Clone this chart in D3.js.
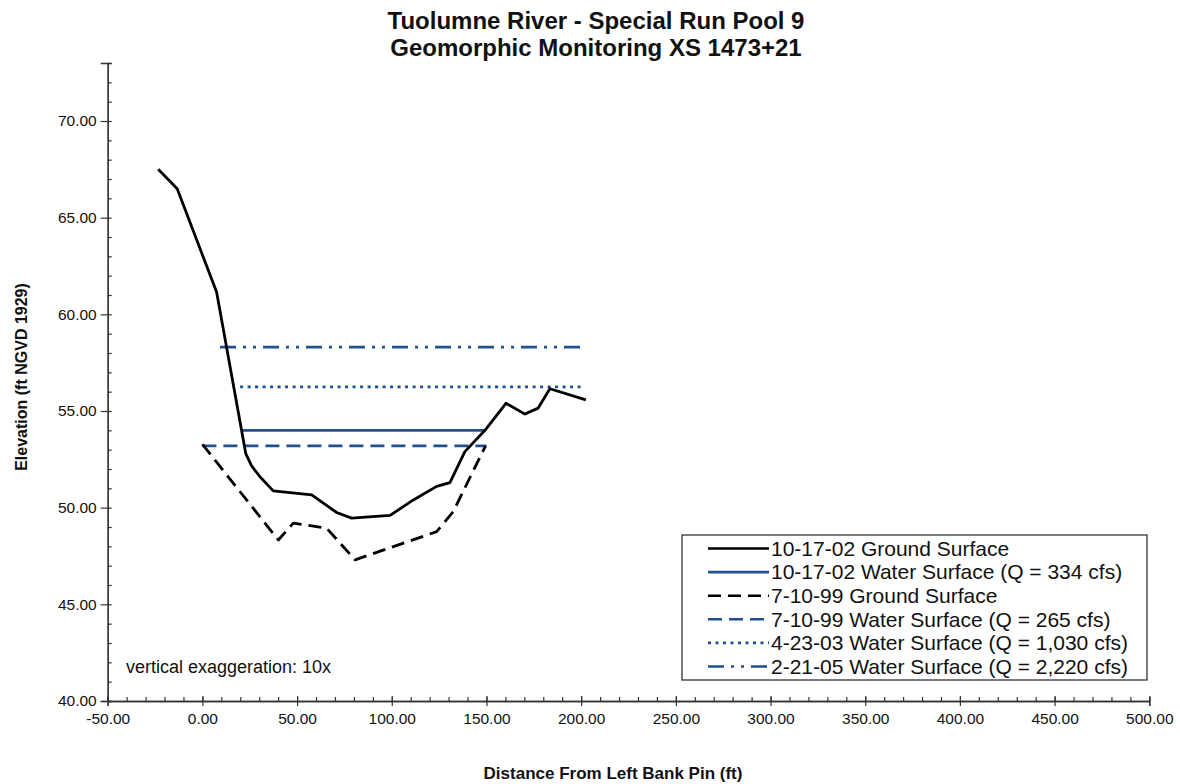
<!DOCTYPE html>
<html>
<head>
<meta charset="utf-8">
<script src="https://cdn.jsdelivr.net/npm/d3@7"></script>
<style>
  body { margin: 0; background: #fff; }
  text { font-family: "Liberation Sans", Arial, sans-serif; fill: #111; }
</style>
</head>
<body>
<svg id="chart" width="1180" height="784"></svg>
<script>
// 10-17-02 ground surface
const ground1017Dist = [-23.3, -13.3, 7.5, 22.9, 26.0, 30.4, 37.4, 57.7, 70.9, 78.8, 99.1, 111.4, 123.7, 130.7, 138.6, 149.2, 160.3, 170.3, 177.3, 183.5, 202.5]
const ground1017Elev = [67.5, 66.5, 61.15, 52.8, 52.16, 51.6, 50.87, 50.66, 49.75, 49.46, 49.6, 50.4, 51.1, 51.3, 52.9, 54.0, 55.4, 54.84, 55.15, 56.15, 55.58]

// 7-10-99 ground surface
const ground0799Dist = [0, 40.1, 48.0, 65.6, 80.6, 123.7, 132.5, 149.5]
const ground0799Elev = [53.28, 48.33, 49.2, 48.94, 47.3, 48.76, 49.8, 53.2]

// water surfaces: [start, end] distance and elevation
const ws1017Dist = [21.3, 149.7]
const ws1017Elev = 54.0
const ws0799Dist = [0, 150]
const ws0799Elev = 53.2
const ws0403Dist = [19.9, 201]
const ws0403Elev = 56.25
const ws0205Dist = [9.3, 201]
const ws0205Elev = 58.3

const legendLabels = [
  '10-17-02 Ground Surface',
  '10-17-02 Water Surface (Q = 334 cfs)',
  '7-10-99 Ground Surface',
  '7-10-99 Water Surface (Q = 265 cfs)',
  '4-23-03 Water Surface (Q = 1,030 cfs)',
  '2-21-05 Water Surface (Q = 2,220 cfs)'
]

const xTicks = d3.range(-50, 501, 50)
const yTicks = d3.range(40, 71, 5)

const blue = '#1f4f8f'
const styles = [
  { color: '#000', dash: null },
  { color: blue, dash: null },
  { color: '#000', dash: '13,7' },
  { color: blue, dash: '14,7' },
  { color: blue, dash: '3,4.5' },
  { color: blue, dash: '16,7,3,7,3,7' }
]

const svg = d3.select('#chart')
const plot = { left: 107.7, right: 1149.3, top: 63, bottom: 701 }

const x = d3.scaleLinear().domain([-50, 500]).range([plot.left, plot.right])
const y = d3.scaleLinear().domain([40, 73]).range([plot.bottom, plot.top])
const fmt = d => d.toFixed(2)

// title
svg.append('text').attr('x', 596).attr('y', 29).attr('text-anchor', 'middle')
  .attr('font-size', '24px').attr('font-weight', 'bold')
  .text('Tuolumne River - Special Run Pool 9')
svg.append('text').attr('x', 596).attr('y', 56).attr('text-anchor', 'middle')
  .attr('font-size', '24px').attr('font-weight', 'bold')
  .text('Geomorphic Monitoring XS 1473+21')

// axes
const axisColor = '#333'
const yMinor = svg.append('g').attr('transform', `translate(${plot.left},0)`)
  .call(d3.axisRight(y).tickValues(d3.range(40, 74, 1)).tickSize(4).tickFormat(''))
const yAxis = svg.append('g').attr('transform', `translate(${plot.left},0)`)
  .call(d3.axisLeft(y).tickValues(yTicks).tickSize(7).tickPadding(4).tickFormat(fmt))
const xMinor = svg.append('g').attr('transform', `translate(0,${plot.bottom})`)
  .call(d3.axisTop(x).tickValues(d3.range(-50, 501, 10)).tickSize(4).tickFormat(''))
const xAxis = svg.append('g').attr('transform', `translate(0,${plot.bottom})`)
  .call(d3.axisBottom(x).tickValues(xTicks).tickSize(5).tickPadding(7).tickFormat(fmt))
xAxis.selectAll('.tick line').attr('y1', -5)

;[yMinor, yAxis, xMinor, xAxis].forEach(g => {
  g.select('.domain').attr('stroke', axisColor).attr('stroke-width', 1.3)
  g.selectAll('.tick line').attr('stroke', axisColor).attr('stroke-width', 1.2)
  g.selectAll('text').attr('font-size', '15.5px').attr('fill', '#222')
    .attr('font-family', '"Liberation Sans", Arial, sans-serif')
})

// axis titles
svg.append('text').attr('transform', 'translate(27,377) rotate(-90)')
  .attr('text-anchor', 'middle').attr('font-size', '16px').attr('font-weight', 'bold')
  .text('Elevation (ft NGVD 1929)')
svg.append('text').attr('x', 613).attr('y', 779).attr('text-anchor', 'middle')
  .attr('font-size', '17px').attr('font-weight', 'bold')
  .text('Distance From Left Bank Pin (ft)')

svg.append('text').attr('x', 126).attr('y', 673).attr('font-size', '18px')
  .text('vertical exaggeration: 10x')

// series
const line = d3.line().x(d => x(d[0])).y(d => y(d[1]))
const series = [
  d3.zip(ground1017Dist, ground1017Elev),
  ws1017Dist.map(d => [d, ws1017Elev]),
  d3.zip(ground0799Dist, ground0799Elev),
  ws0799Dist.map(d => [d, ws0799Elev]),
  ws0403Dist.map(d => [d, ws0403Elev]),
  ws0205Dist.map(d => [d, ws0205Elev])
]
const drawOrder = [5, 4, 3, 1, 2, 0]
drawOrder.forEach(i => {
  svg.append('path')
    .datum(series[i])
    .attr('d', line)
    .attr('fill', 'none')
    .attr('stroke', styles[i].color)
    .attr('stroke-width', 2.8)
    .attr('stroke-dasharray', styles[i].dash)
    .attr('stroke-linejoin', 'round')
})

// legend
const legend = svg.append('g').attr('transform', 'translate(682,535)')
legend.append('rect').attr('width', 465).attr('height', 145)
  .attr('fill', '#fff').attr('stroke', '#333').attr('stroke-width', 1.3)
legendLabels.forEach((label, i) => {
  const ly = 13.5 + i * 23.6
  legend.append('line').attr('x1', 26).attr('x2', 87).attr('y1', ly).attr('y2', ly)
    .attr('stroke', styles[i].color).attr('stroke-width', 2.6)
    .attr('stroke-dasharray', styles[i].dash)
  legend.append('text').attr('x', 89).attr('y', ly).attr('dy', '0.35em')
    .attr('font-size', '21px').text(label)
})
</script>
</body>
</html>
